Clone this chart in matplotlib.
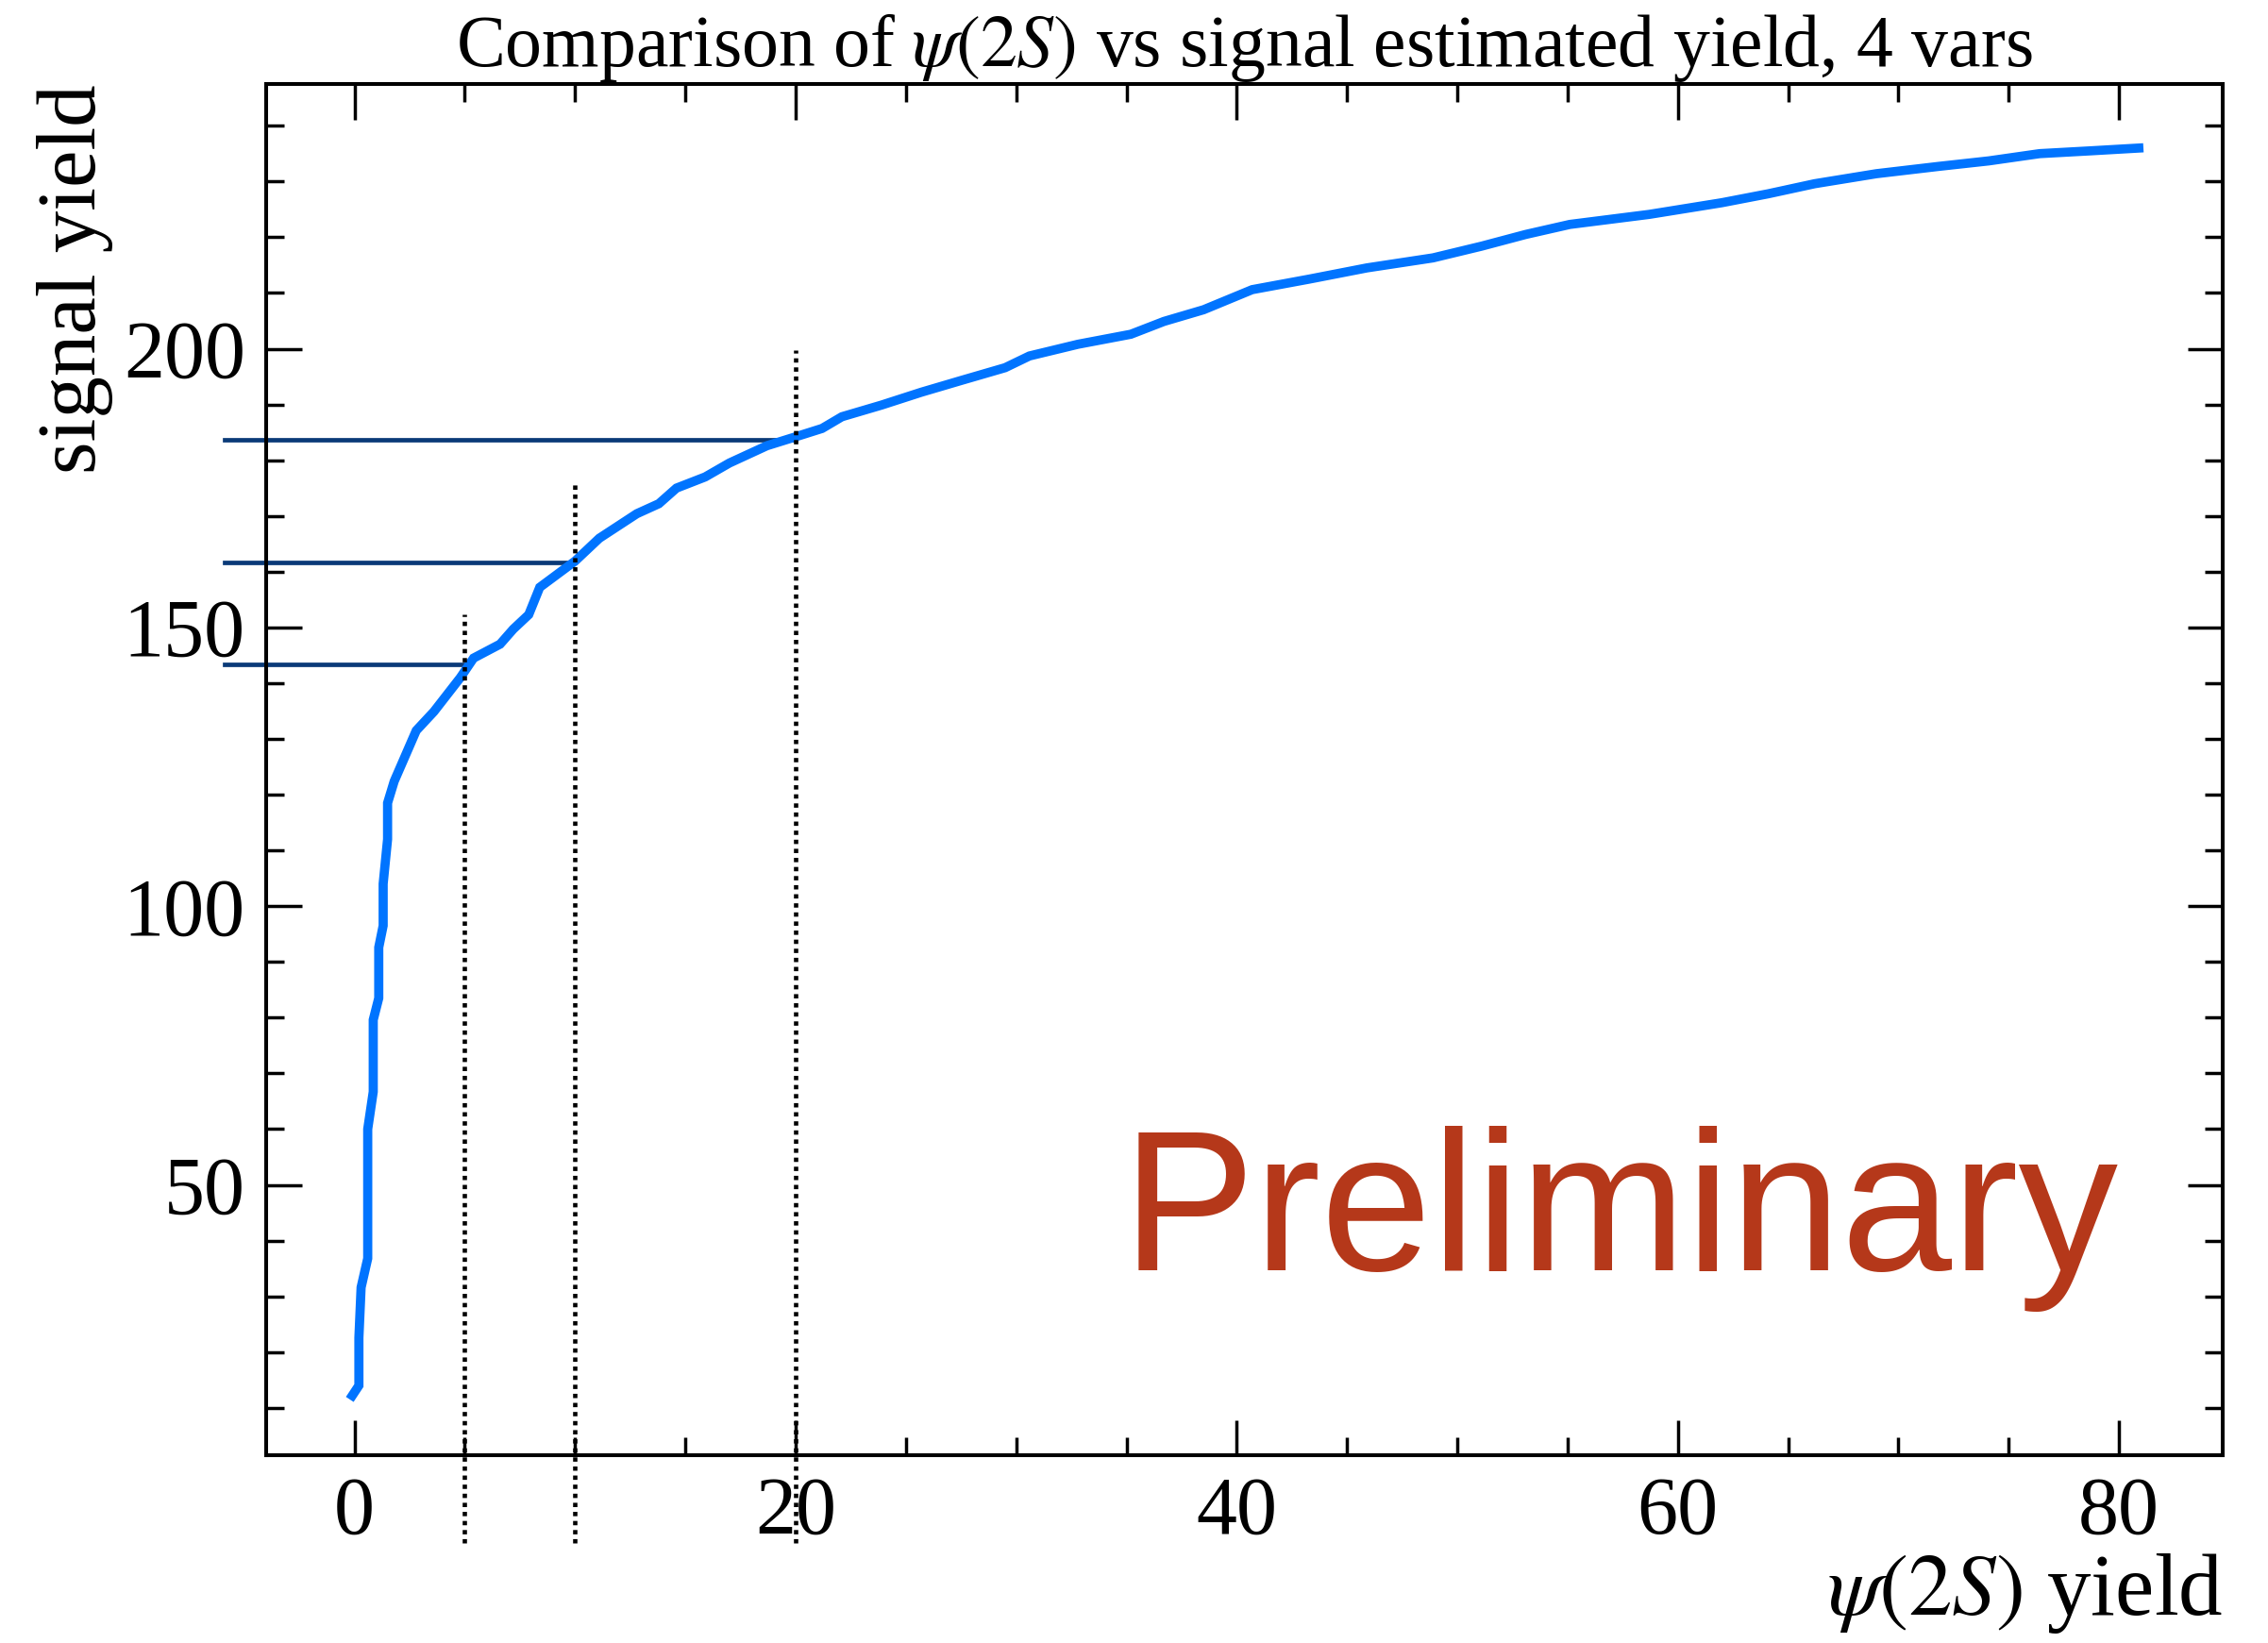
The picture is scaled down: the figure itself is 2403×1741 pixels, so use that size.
import matplotlib
matplotlib.use("Agg")
import matplotlib.pyplot as plt
from matplotlib.ticker import MultipleLocator

plt.rcParams['mathtext.fontset'] = 'stix'
plt.rcParams['font.family'] = ['Liberation Serif', 'DejaVu Serif']

psi_yield = [-0.1, 0.2, 0.2, 0.3, 0.6, 0.6, 0.85, 0.85, 1.1, 1.1, 1.3, 1.3, 1.5, 1.5, 1.8,
             2.8, 3.6, 4.8, 5.4, 6.6, 7.2, 7.9, 8.4, 10.0, 11.1, 12.8, 13.8, 14.6, 15.9,
             17.0, 18.7, 20.0, 21.2, 22.1, 23.9, 25.7, 27.5, 29.5, 30.6, 32.8, 35.2, 36.7,
             38.5, 40.7, 43.3, 45.9, 48.9, 51.1, 53.1, 55.1, 58.7, 62.0, 64.1, 66.2, 69.0,
             71.8, 74.1, 76.4, 78.7, 80.9]
signal_yield = [12.2, 14.0, 22.6, 31.6, 36.8, 60.0, 66.7, 79.6, 83.5, 92.6, 96.5, 104.0,
                112.0, 118.5, 122.4, 131.5, 134.9, 141.0, 144.5, 147.0, 149.7, 152.3, 157.2,
                161.9, 166.0, 170.4, 172.2, 175.0, 177.0, 179.5, 182.6, 184.2, 185.7, 187.8,
                189.9, 192.2, 194.3, 196.6, 198.7, 200.8, 202.6, 204.9, 207.0, 210.6, 212.5,
                214.5, 216.3, 218.4, 220.5, 222.3, 224.1, 226.2, 227.8, 229.6, 231.4, 232.7,
                233.7, 235.0, 235.5, 236.0]

cut_x = [5, 10, 20]
cut_y = [143.4, 161.6, 183.7]
cut_vtop = [152.3, 176.0, 199.7]

fig = plt.figure(figsize=(24.03, 17.41), dpi=100)
ax = fig.add_axes([0.1174, 0.1143, 0.8626, 0.8346])

ax.plot(psi_yield, signal_yield, color='#0074FF', lw=7.0, solid_joinstyle='miter', zorder=3)

xmin, xmax = -4.0, 84.7
ymin, ymax = 1.5, 247.5
for cx, cy, vt in zip(cut_x, cut_y, cut_vtop):
    ax.plot([-5.9, cx], [cy, cy], color='#0A3A78', lw=3.4, clip_on=False, zorder=2)
    ax.plot([cx, cx], [-14.3, vt], color='black', lw=3.3, ls=(0, (1, 1.1)), clip_on=False, zorder=4)

ax.set_xlim(xmin, xmax)
ax.set_ylim(ymin, ymax)

ax.xaxis.set_major_locator(MultipleLocator(20))
ax.xaxis.set_minor_locator(MultipleLocator(5))
ax.yaxis.set_major_locator(MultipleLocator(50))
ax.yaxis.set_minor_locator(MultipleLocator(10))
ax.tick_params(which='both', direction='in', top=True, right=True, width=2.5, labelsize=62)
ax.tick_params(which='major', length=27, pad=16)
ax.tick_params(which='minor', length=13.5)
for s in ax.spines.values():
    s.set_linewidth(2.9)

ax.set_title(r'Comparison of $\psi(2S)$ vs signal estimated yield, 4 vars', fontsize=56, pad=10)
ax.set_xlabel(r'$\psi(2S)$ yield', fontsize=67, loc='right', labelpad=0)
ax.set_ylabel('signal yield', fontsize=64, loc='top', labelpad=8)

ax.text(0.947, 0.135, 'Preliminary', transform=ax.transAxes, ha='right', va='baseline',
        fontsize=152, color='#B5381A', family=['Liberation Sans', 'DejaVu Sans'])

fig.savefig('out.png', dpi=100)
